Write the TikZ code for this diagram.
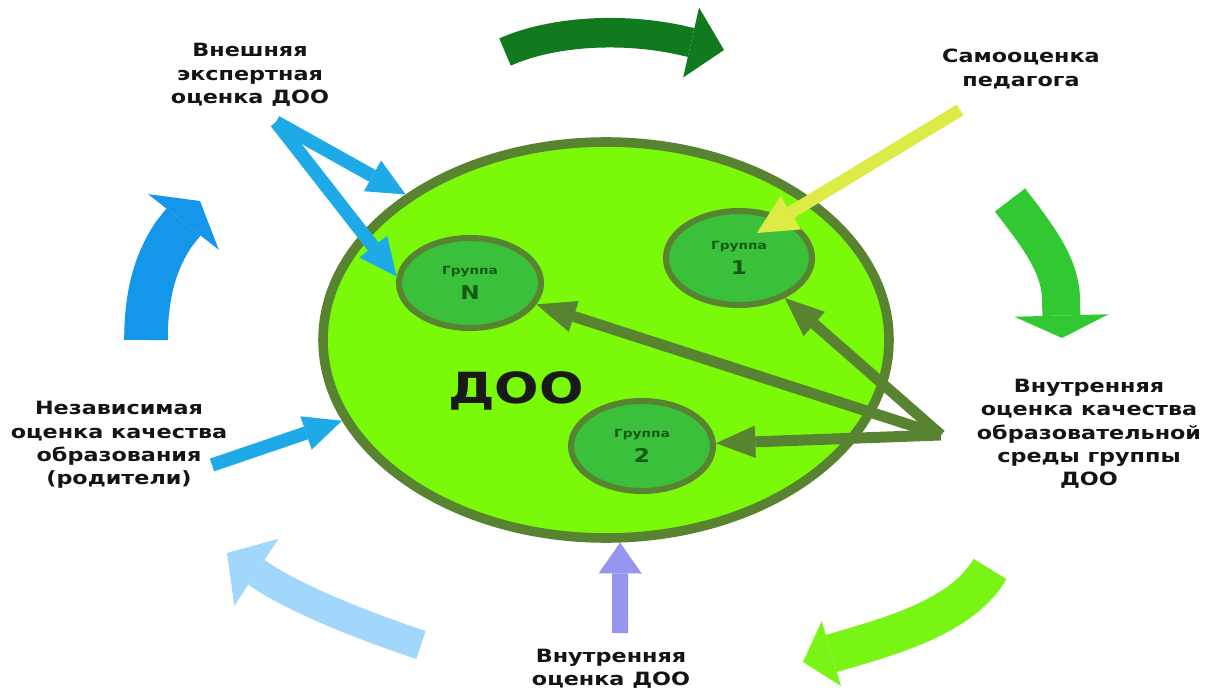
\documentclass[tikz,border=0pt]{standalone}
\usepackage{fontspec}
\usepackage{tikz}
\usetikzlibrary{calc, positioning, shapes, arrows.meta}
\newfontfamily\lblfont[FakeStretch=1.22]{DejaVu Sans}
\definecolor{doofill}{RGB}{122,250,8}
\definecolor{dooline}{RGB}{88,132,50}
\definecolor{grpfill}{RGB}{58,192,58}
\definecolor{grptext}{RGB}{20,90,20}
\definecolor{arrtop}{RGB}{18,122,30}
\definecolor{arrright}{RGB}{50,200,50}
\definecolor{arrlime}{RGB}{120,245,20}
\definecolor{arrpale}{RGB}{160,215,250}
\definecolor{arrblue}{RGB}{20,150,235}
\definecolor{arrcyan}{RGB}{30,170,230}
\definecolor{arryellow}{RGB}{220,235,70}
\definecolor{arrviolet}{RGB}{150,150,240}
\def\px{0.025cm}
\def\grpnum{\fontsize{13.5}{14}\selectfont}
\tikzstyle{lbl}=[font=\lblfont\bfseries\fontsize{13}{16.6}\selectfont, align=center, text=black!92]
\tikzstyle{doo}=[ellipse, draw=dooline, fill=doofill, line width=6.8pt, minimum width=566*\px, minimum height=396*\px, inner sep=0pt]
\tikzstyle{grp}=[ellipse, draw=dooline, fill=grpfill, line width=4.3pt, minimum width=142*\px, minimum height=90*\px, inner sep=0pt, align=center, font=\lblfont\bfseries\fontsize{8}{12}\selectfont, text=grptext]
\tikzstyle{cyanptr}=[arrcyan, line width=9.5pt, -{Triangle[length=27pt, width=25pt, line width=0pt]}]
\tikzstyle{oliveptr}=[dooline, line width=7.8pt, -{Triangle[length=28pt, width=23pt, line width=0pt]}]
\tikzstyle{yellowptr}=[arryellow, line width=9pt, -{Triangle[length=28pt, width=28pt, line width=0pt]}]
\tikzstyle{violetptr}=[arrviolet, line width=11.4pt, -{Triangle[length=22pt, width=30.6pt, line width=0pt]}]

\begin{document}
\begin{tikzpicture}[x=\px, y=-\px]
		\path[fill=white, use as bounding box] (0,0) rectangle (1207,688);

		% cycle round the DOO
		\draw[arrtop, line width=21pt, -{Triangle[length=24pt, width=51pt, line width=0pt]}] (505,52) .. controls (555,30) and (625,28) .. (680,40) -- (724,50);
		\draw[arrright, line width=27pt, -{Triangle[length=16pt, width=67pt, line width=0pt]}] (1010,200) .. controls (1036,234) and (1061,265) .. (1061,300) -- (1062,338);
		\draw[arrlime, line width=27.5pt, -{Triangle[length=21pt, width=48pt, line width=0pt]}] (990,569) .. controls (965,612) and (905,632) .. (850,648) -- (803,662);
		\draw[arrpale, line width=21pt, -{Triangle[length=25pt, width=57pt, line width=0pt]}] (421,645) .. controls (370,628) and (310,605) .. (268,580) -- (227,553);
		\draw[arrblue, line width=31pt, -{Triangle[length=19pt, width=64pt, line width=0pt]}] (146,340) .. controls (146,295) and (155,262) .. (174,234) -- (200,201);

		\node[doo] (D) at (606,340) {};
		\node[font=\lblfont\bfseries\fontsize{30.5}{34}\selectfont, text=black!90] (T) at (516,391) {ДОО};
		\node[grp] (GN) at (470,283) {Группа\\[6pt]{\grpnum N}};
		\node[grp, minimum width=146*\px, minimum height=94*\px] (G1) at (739,258) {Группа\\[6pt]{\grpnum 1}};
		\node[grp] (G2) at (642,446) {Группа\\[6pt]{\grpnum 2}};

		\node[lbl] (E) at (250,75) {Внешняя\\экспертная\\оценка ДОО};
		\node[lbl] (S) at (1021,69) {Самооценка\\педагога};
		\node[lbl] (P) at (119,445) {Независимая\\оценка качества\\образования\\(родители)};
		\node[lbl] (Q) at (1089,434) {Внутренняя\\оценка качества\\образовательной\\среды группы\\ДОО};
		\node[lbl] (B) at (611,669) {Внутренняя\\оценка ДОО};

		\coordinate (e0) at (276,122);
		\coordinate (s0) at (960,110);
		\coordinate (p0) at (212,465);
		\coordinate (q0) at (941,435);
		\coordinate (b0) at (620,633);
		\coordinate (s1) at ($(G1.center)+(18,-25)$);

		\path
		(e0) edge[cyanptr] (D.144)
		(e0) edge[cyanptr] (GN.175)
		(p0) edge[cyanptr] (D.197)
		(s0) edge[yellowptr] (s1)
		(b0) edge[violetptr] (D.274)
		(q0) edge[oliveptr] (GN)
		(q0) edge[oliveptr] (G1)
		(q0) edge[oliveptr] (G2);
	\end{tikzpicture}
\end{document}
